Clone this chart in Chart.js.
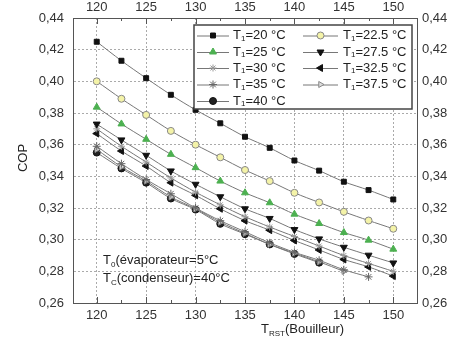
<!DOCTYPE html>
<html>
<head>
<meta charset="utf-8">
<script src="https://cdn.jsdelivr.net/npm/chart.js@4.4.0/dist/chart.umd.min.js"></script>
<style>
  html, body { margin: 0; padding: 0; background: #fff; }
  #wrap { width: 455px; height: 340px; }
</style>
</head>
<body>
<div id="wrap"><canvas id="myChart" width="455" height="340"></canvas></div>
<script>
var xValues = [120, 122.5, 125, 127.5, 130, 132.5, 135, 137.5, 140, 142.5, 145, 147.5, 150];
var xTicks = [120, 125, 130, 135, 140, 145, 150];
var yTicks = [0.26, 0.28, 0.30, 0.32, 0.34, 0.36, 0.38, 0.40, 0.42, 0.44];
var tfLabels = ["20", "22.5", "25", "27.5", "30", "32.5", "35", "37.5", "40"];

var cop20 = [0.425, 0.413, 0.402, 0.3915, 0.382, 0.3735, 0.365, 0.358, 0.350, 0.3436, 0.3366, 0.3313, 0.3254];
var cop225 = [0.400, 0.389, 0.3788, 0.3687, 0.360, 0.352, 0.344, 0.337, 0.3296, 0.3235, 0.3176, 0.3121, 0.3069];
var cop25 = [0.3837, 0.3731, 0.3634, 0.3539, 0.3455, 0.337, 0.3296, 0.3233, 0.3161, 0.3102, 0.3045, 0.2997, 0.294];
var cop275 = [0.373, 0.363, 0.3533, 0.3434, 0.335, 0.3271, 0.3195, 0.3134, 0.3064, 0.3005, 0.2952, 0.2902, 0.2853];
var cop30 = [0.370, 0.359, 0.349, 0.339, 0.330, 0.322, 0.3145, 0.308, 0.302, 0.296, 0.290, 0.285, 0.280];
var cop325 = [0.367, 0.356, 0.3465, 0.336, 0.328, 0.3195, 0.312, 0.306, 0.2995, 0.2935, 0.2875, 0.2828, 0.277];
var cop35 = [0.359, 0.348, 0.338, 0.329, 0.320, 0.312, 0.305, 0.298, 0.292, 0.287, 0.281, 0.2765, null];
var cop375 = [0.357, 0.346, 0.337, 0.327, 0.3195, 0.311, 0.304, 0.297, 0.2915, 0.286, 0.280, null, null];
var cop40 = [0.355, 0.345, 0.336, 0.326, 0.319, 0.310, 0.3035, 0.297, 0.291, 0.2855, null, null, null];

var seriesValues = [cop20, cop225, cop25, cop275, cop30, cop325, cop35, cop375, cop40];
var markerStyles = [
  { pointStyle: "rect", bg: "#111", border: "#111", rotation: 0, r: 3.5 },
  { pointStyle: "circle", bg: "#f4f3a8", border: "#888", rotation: 0, r: 3.5 },
  { pointStyle: "triangle", bg: "#4cb050", border: "#4cb050", rotation: 0, r: 4 },
  { pointStyle: "triangle", bg: "#111", border: "#111", rotation: 180, r: 4 },
  { pointStyle: "star", bg: "#999", border: "#999", rotation: 0, r: 3.5 },
  { pointStyle: "triangle", bg: "#111", border: "#111", rotation: -90, r: 4 },
  { pointStyle: "star", bg: "#666", border: "#666", rotation: 0, r: 4 },
  { pointStyle: "triangle", bg: "#ddd", border: "#888", rotation: 90, r: 3.5 },
  { pointStyle: "circle", bg: "#222", border: "#111", rotation: 0, r: 3.5 }
];

var datasets = seriesValues.map(function (vals, i) {
  var m = markerStyles[i];
  return {
    label: "T1=" + tfLabels[i] + " °C",
    data: xValues.map(function (x, j) { return { x: x, y: vals[j] }; }).filter(function (p) { return p.y !== null; }),
    borderColor: "#777",
    borderWidth: 1,
    backgroundColor: m.bg,
    pointBackgroundColor: m.bg,
    pointBorderColor: m.border,
    pointBorderWidth: 1,
    pointStyle: m.pointStyle,
    pointRotation: m.rotation,
    pointRadius: m.r,
    tension: 0.3,
    fill: false
  };
});

var FONT = "Liberation Sans, Arial, sans-serif";
var fmt = function (v) { return v.toFixed(2).replace(".", ","); };

function fixTicks(list) {
  return function (scale) { scale.ticks = list.map(function (v) { return { value: v }; }); };
}

function drawSub(ctx, x, y, main, sub, rest, size) {
  ctx.font = size + "px " + FONT;
  ctx.fillText(main, x, y);
  x += ctx.measureText(main).width;
  ctx.font = Math.round(size * 0.6) + "px " + FONT;
  ctx.fillText(sub, x, y + 3);
  x += ctx.measureText(sub).width;
  ctx.font = size + "px " + FONT;
  ctx.fillText(rest, x, y);
}

var extras = {
  id: "extras",
  afterDraw: function (chart) {
    var ctx = chart.ctx;
    var xs = chart.scales.x, ys = chart.scales.y;
    ctx.save();
    // minor ticks on x every 2.5
    ctx.strokeStyle = "#555";
    ctx.lineWidth = 1;
    xValues.forEach(function (v) {
      var px = Math.round(xs.getPixelForValue(v)) + 0.5;
      ctx.beginPath();
      ctx.moveTo(px, ys.bottom); ctx.lineTo(px, ys.bottom - (v % 5 === 0 ? 6 : 3));
      ctx.moveTo(px, ys.top); ctx.lineTo(px, ys.top + (v % 5 === 0 ? 6 : 3));
      ctx.stroke();
    });

    // legend box
    var bx = 194, by = 25, bw = 218, bh = 84;
    ctx.fillStyle = "#fff";
    ctx.fillRect(bx, by, bw, bh);
    ctx.strokeStyle = "#444";
    ctx.lineWidth = 1.5;
    ctx.strokeRect(bx, by, bw, bh);
    var rows = [35.5, 52, 68, 84.5, 101];
    var cols = [{ l0: 197, l1: 229, t: 233 }, { l0: 303, l1: 338, t: 343 }];
    ctx.textBaseline = "middle";
    chart.data.datasets.forEach(function (ds, i) {
      var c = cols[i < 8 ? i % 2 : 0];
      var y = rows[Math.floor(i / 2)];
      ctx.strokeStyle = "#777";
      ctx.lineWidth = 1;
      ctx.beginPath();
      ctx.moveTo(c.l0, y + 0.5); ctx.lineTo(c.l1, y + 0.5);
      ctx.stroke();
      ctx.fillStyle = ds.pointBackgroundColor;
      ctx.strokeStyle = ds.pointBorderColor;
      Chart.helpers.drawPoint(ctx, {
        pointStyle: ds.pointStyle, rotation: ds.pointRotation,
        radius: ds.pointRadius, borderWidth: 1
      }, (c.l0 + c.l1) / 2, y);
      ctx.fillStyle = "#222";
      drawSub(ctx, c.t, y, "T", "1", "=" + tfLabels[i] + " °C", 13);
    });

    // annotation
    ctx.fillStyle = "#222";
    ctx.textBaseline = "alphabetic";
    drawSub(ctx, 103, 264, "T", "0", "(évaporateur=5°C", 13);
    drawSub(ctx, 103, 282, "T", "C", "(condenseur)=40°C", 13);

    // axis titles
    drawSub(ctx, 261, 333, "T", "RST", "(Bouilleur)", 13);
    ctx.translate(27, 158);
    ctx.rotate(-Math.PI / 2);
    ctx.textAlign = "center";
    ctx.font = "13px " + FONT;
    ctx.fillText("COP", 0, 0);
    ctx.restore();
  }
};

var gridOpts = { color: "#aaa", drawTicks: false, lineWidth: 1 };
var borderOpts = { color: "#555", width: 1, dash: [2, 2] };
var tickFont = { family: FONT, size: 13 };

var ctx = document.getElementById("myChart").getContext("2d");
var myChart = new Chart(ctx, {
  type: "line",
  data: { datasets: datasets },
  options: {
    responsive: false,
    animation: false,
    layout: { padding: 0 },
    plugins: { legend: { display: false }, tooltip: { enabled: false } },
    scales: {
      x: {
        type: "linear", position: "bottom", min: 117.6, max: 152.4,
        afterBuildTicks: fixTicks(xTicks),
        afterFit: function (s) { s.height = 37; },
        grid: gridOpts, border: borderOpts,
        ticks: { color: "#333", font: tickFont, padding: 5, maxRotation: 0 }
      },
      x2: {
        type: "linear", position: "top", min: 117.6, max: 152.4,
        afterBuildTicks: fixTicks(xTicks),
        afterFit: function (s) { s.height = 18; },
        grid: { display: false, drawTicks: false }, border: { color: "#555", width: 1 },
        ticks: { color: "#333", font: tickFont, padding: 3, maxRotation: 0 }
      },
      y: {
        type: "linear", position: "left", min: 0.26, max: 0.44,
        afterBuildTicks: fixTicks(yTicks),
        afterFit: function (s) { s.width = 73; },
        grid: gridOpts, border: borderOpts,
        ticks: { color: "#333", font: tickFont, padding: 9, callback: function (v) { return fmt(v); } }
      },
      y2: {
        type: "linear", position: "right", min: 0.26, max: 0.44,
        afterBuildTicks: fixTicks(yTicks),
        afterFit: function (s) { s.width = 38; },
        grid: { display: false, drawTicks: false }, border: { color: "#555", width: 1 },
        ticks: { color: "#333", font: tickFont, padding: 5, callback: function (v) { return fmt(v); } }
      }
    }
  },
  plugins: [extras]
});
</script>
</body>
</html>
